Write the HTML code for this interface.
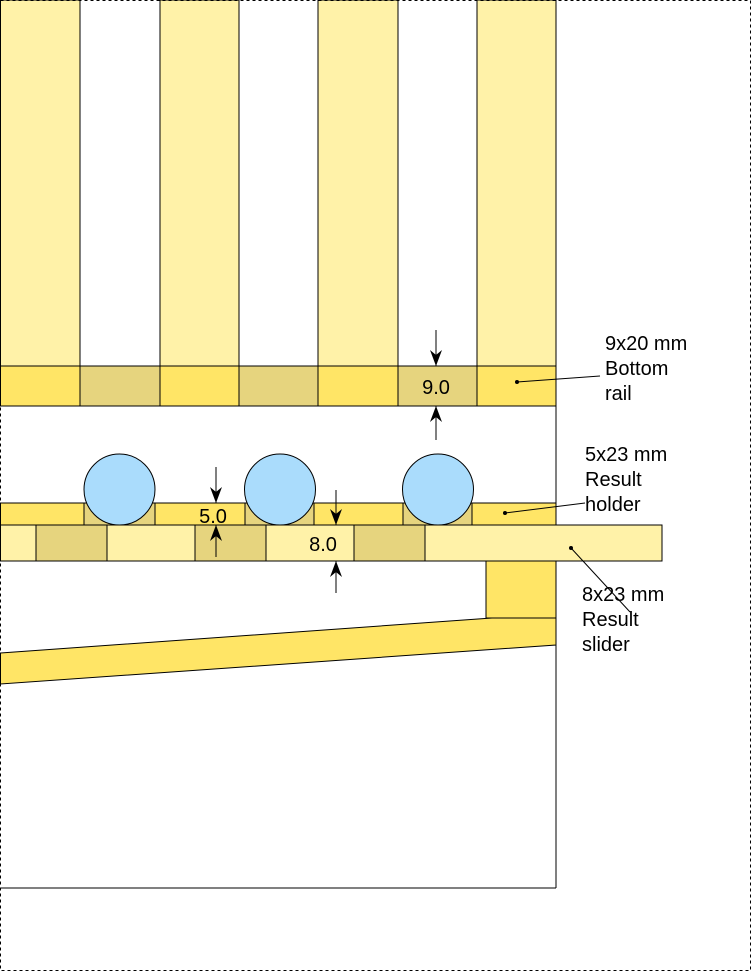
<!DOCTYPE html>
<html><head><style>body{margin:0;background:#fff}svg{display:block}text{font-family:"Liberation Sans",Arial,sans-serif}</style></head><body>
<svg width="751" height="972" xmlns="http://www.w3.org/2000/svg">
<defs><marker id="a" viewBox="0 0 16 12" refX="16" refY="6" markerWidth="16" markerHeight="12" markerUnits="userSpaceOnUse" orient="auto"><path d="M0,0 L16,6 L0,12 L5,6 Z" fill="#000"/></marker></defs>
<g stroke="#000" stroke-width="1">
<rect x="0.5" y="0" width="79.5" height="366" fill="#fff2a8"/>
<rect x="160" y="0" width="79" height="366" fill="#fff2a8"/>
<rect x="318" y="0" width="80" height="366" fill="#fff2a8"/>
<rect x="477" y="0" width="79" height="366" fill="#fff2a8"/>
<rect x="0.5" y="366" width="79.5" height="40" fill="#ffe566"/>
<rect x="80" y="366" width="80" height="40" fill="#e6d47e"/>
<rect x="160" y="366" width="79" height="40" fill="#ffe566"/>
<rect x="239" y="366" width="79" height="40" fill="#e6d47e"/>
<rect x="318" y="366" width="80" height="40" fill="#ffe566"/>
<rect x="398" y="366" width="79" height="40" fill="#e6d47e"/>
<rect x="477" y="366" width="79" height="40" fill="#ffe566"/>
<line x1="556" y1="0" x2="556" y2="888"/>
<line x1="0" y1="888" x2="556" y2="888"/>
<rect x="0.5" y="503" width="83.5" height="22" fill="#ffe566"/>
<rect x="84" y="503" width="71" height="22" fill="#e6d47e"/>
<rect x="155" y="503" width="90" height="22" fill="#ffe566"/>
<rect x="245" y="503" width="69" height="22" fill="#e6d47e"/>
<rect x="314" y="503" width="89" height="22" fill="#ffe566"/>
<rect x="403" y="503" width="69" height="22" fill="#e6d47e"/>
<rect x="472" y="503" width="84" height="22" fill="#ffe566"/>
<circle cx="119.5" cy="489.5" r="35.5" fill="#aadcfc"/>
<circle cx="280" cy="489.5" r="35.5" fill="#aadcfc"/>
<circle cx="438" cy="489.5" r="35.5" fill="#aadcfc"/>
<rect x="0.5" y="525" width="35.5" height="36" fill="#fff2a8"/>
<rect x="36" y="525" width="71" height="36" fill="#e6d47e"/>
<rect x="107" y="525" width="88" height="36" fill="#fff2a8"/>
<rect x="195" y="525" width="71" height="36" fill="#e6d47e"/>
<rect x="266" y="525" width="88" height="36" fill="#fff2a8"/>
<rect x="354" y="525" width="71" height="36" fill="#e6d47e"/>
<rect x="425" y="525" width="237" height="36" fill="#fff2a8"/>
<rect x="486" y="561" width="70" height="57" fill="#ffe566"/>
<polygon points="0.5,653 492,618 556,618 556,645 0.5,684" fill="#ffe566"/>
<line x1="436" y1="330" x2="436" y2="366" marker-end="url(#a)"/>
<line x1="436" y1="440" x2="436" y2="406" marker-end="url(#a)"/>
<line x1="216" y1="467" x2="216" y2="503" marker-end="url(#a)"/>
<line x1="216" y1="557" x2="216" y2="525" marker-end="url(#a)"/>
<line x1="336" y1="490" x2="336" y2="525" marker-end="url(#a)"/>
<line x1="336" y1="593" x2="336" y2="561" marker-end="url(#a)"/>
<line x1="517" y1="382" x2="600" y2="376"/>
<line x1="505" y1="513" x2="585" y2="503"/>
<line x1="571" y1="548" x2="630" y2="612"/>
<rect x="0.5" y="0.5" width="750" height="970" fill="none" stroke-dasharray="3,3"/>
</g>
<g fill="#000"><circle cx="517" cy="382" r="2"/><circle cx="505" cy="513" r="2"/><circle cx="571" cy="548" r="2"/></g>
<g font-size="20" fill="#000">
<text x="436" y="394" text-anchor="middle">9.0</text>
<text x="213" y="523" text-anchor="middle">5.0</text>
<text x="323" y="551" text-anchor="middle">8.0</text>
<text x="605" y="350">9x20 mm</text><text x="605" y="375">Bottom</text><text x="605" y="400">rail</text>
<text x="585" y="461">5x23 mm</text><text x="585" y="486">Result</text><text x="585" y="511">holder</text>
<text x="582" y="601">8x23 mm</text><text x="582" y="626">Result</text><text x="582" y="651">slider</text>
</g>
</svg>
</body></html>
